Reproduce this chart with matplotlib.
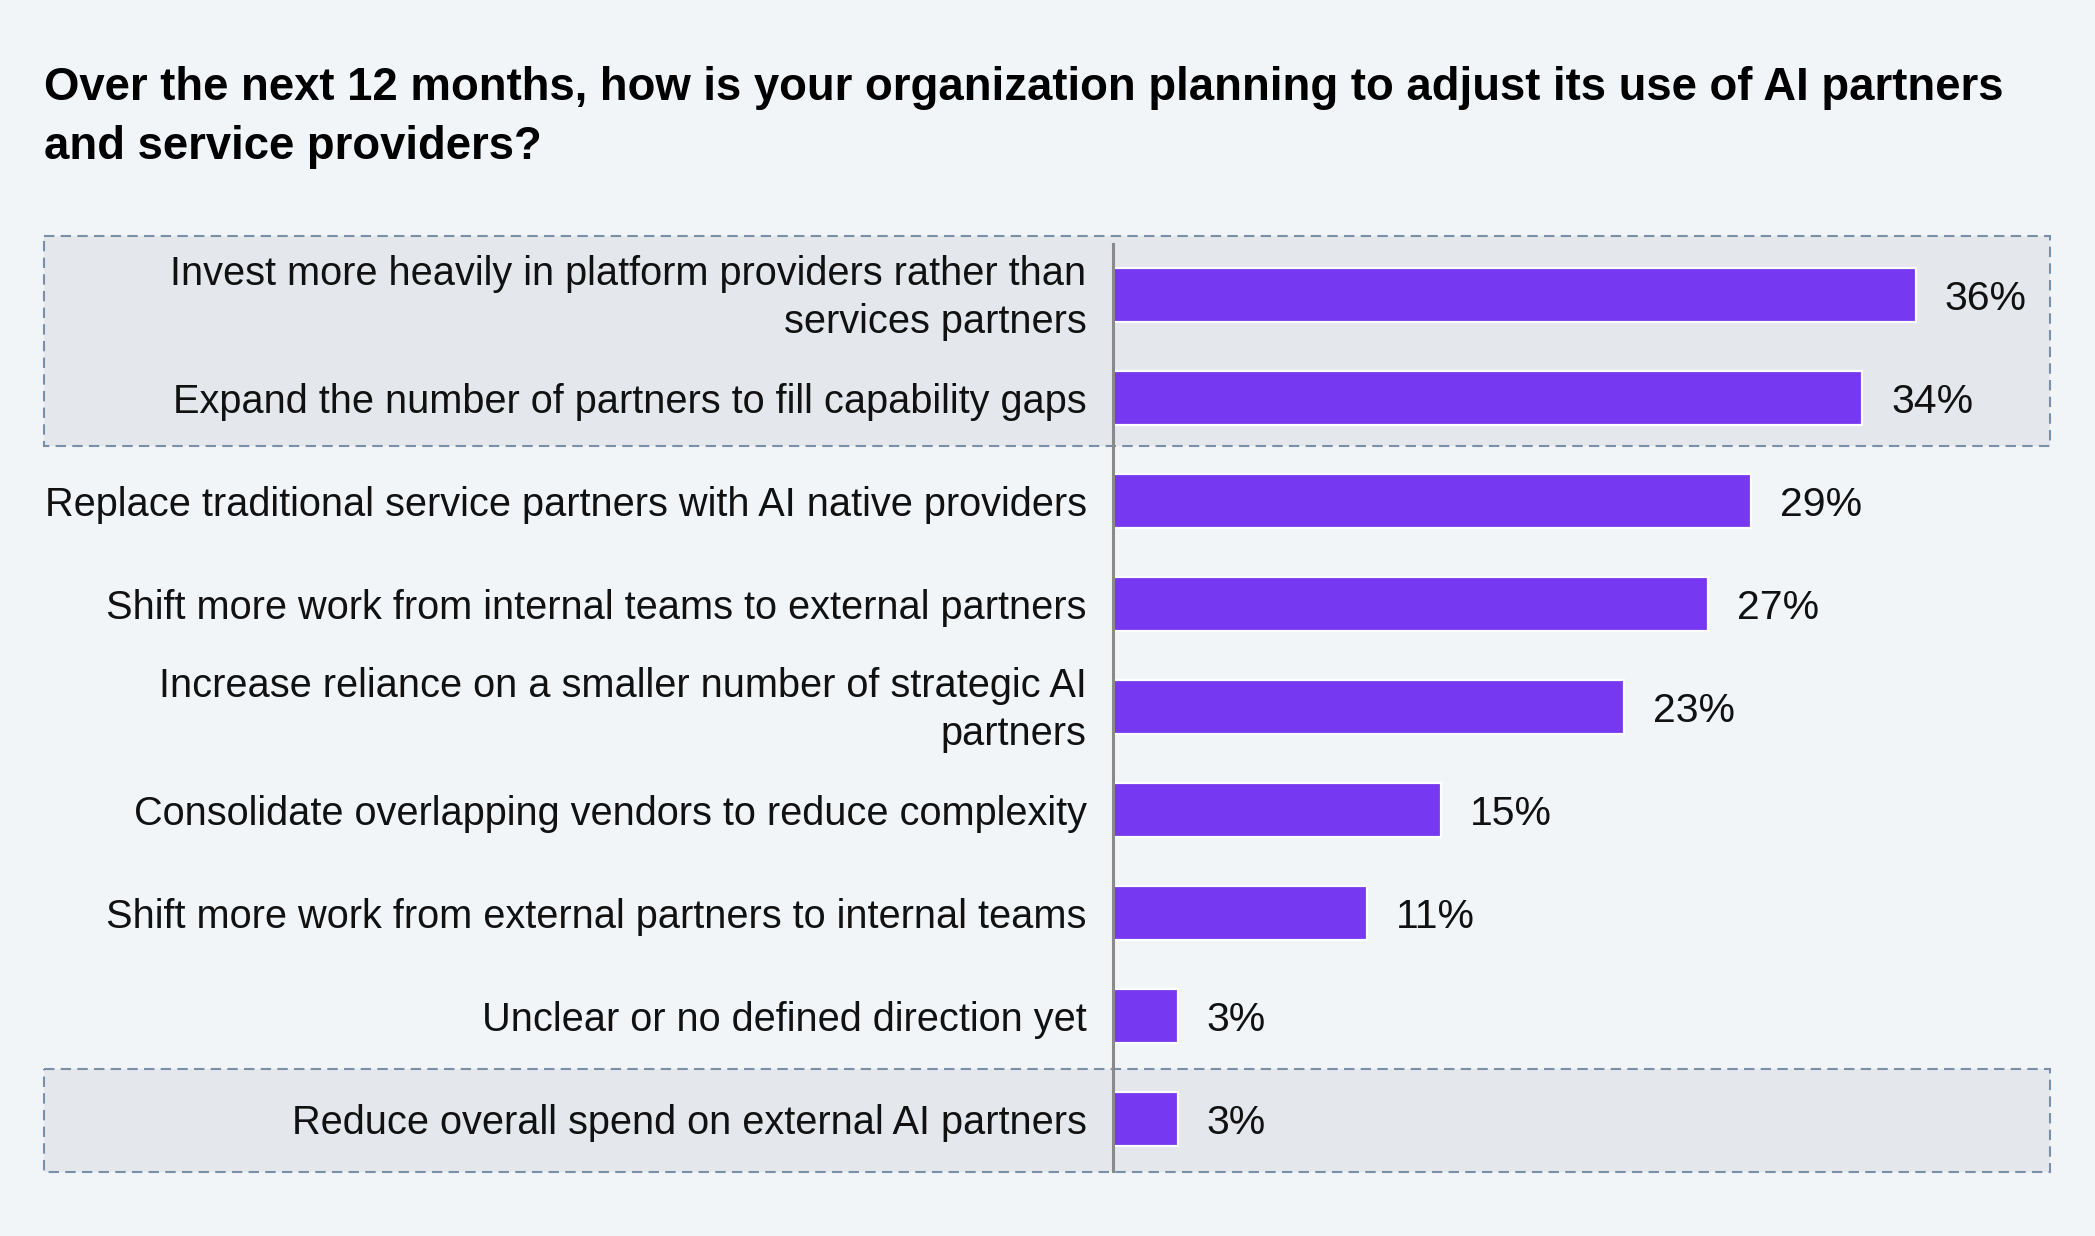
import matplotlib
matplotlib.use("Agg")
import matplotlib.pyplot as plt
from matplotlib.patches import Rectangle
from matplotlib.transforms import blended_transform_factory, ScaledTranslation

plt.rcParams['font.family'] = ['Liberation Sans', 'DejaVu Sans']

# Data
categories = [
    "Invest more heavily in platform providers rather than\nservices partners",
    "Expand the number of partners to fill capability gaps",
    "Replace traditional service partners with AI native providers",
    "Shift more work from internal teams to external partners",
    "Increase reliance on a smaller number of strategic AI\npartners",
    "Consolidate overlapping vendors to reduce complexity",
    "Shift more work from external partners to internal teams",
    "Unclear or no defined direction yet",
    "Reduce overall spend on external AI partners",
]
values = [36.0, 33.6, 28.6, 26.7, 22.9, 14.7, 11.4, 2.9, 2.9]
highlight_groups = [(0, 1), (8, 8)]  # rows inside the dashed boxes

title = ("Over the next 12 months, how is your organization planning to adjust its use of AI partners\n"
         "and service providers?")

bg_color = '#F2F5F8'
box_color = '#E4E7EC'
box_edge = '#7A8FA8'
bar_color = '#7638F0'

W, H = 2095, 1236
fig = plt.figure(figsize=(W / 100, H / 100), dpi=100, facecolor=bg_color)

ax = fig.add_axes([1113 / W, (H - 1170.5) / H, 936.6 / W, 927 / H])
ax.set_facecolor('none')

y = list(range(len(categories)))
ax.barh(y, values, height=0.515, color=bar_color, edgecolor='white', linewidth=1.6, zorder=3)

ax.set_xlim(0, 42)
ax.set_ylim(len(categories) - 0.5, -0.5)

for i, v in enumerate(values):
    ax.text(v + 1.3, i, f"{v:.0f}%", va='center_baseline', ha='left', fontsize=29.5,
            color='#111111', zorder=4)

ax.set_yticks(y)
ax.set_yticklabels(categories, fontsize=28.6, color='#111111', linespacing=1.32)
ax.tick_params(axis='y', length=0, pad=19)
ax.tick_params(axis='x', length=0, labelbottom=False)

# two-line labels sit a little higher in the original
for lbl in ax.get_yticklabels():
    if '\n' in lbl.get_text():
        lbl.set_transform(lbl.get_transform() + ScaledTranslation(0, 6 / 100, fig.dpi_scale_trans))

for side in ['top', 'right', 'bottom']:
    ax.spines[side].set_visible(False)
ax.spines['left'].set_color('#8A8A8A')
ax.spines['left'].set_linewidth(2.2)
ax.spines['left'].set_zorder(5)

# dashed highlight boxes spanning the whole row width
trans = blended_transform_factory(fig.transFigure, ax.transData)
for first, last in highlight_groups:
    top = first - 0.57 if first == 0 else first - 0.485
    bottom = last + 0.47 if last < len(categories) - 1 else last + 0.515
    rect = Rectangle((44 / W, top), (2050 - 44) / W, bottom - top, transform=trans,
                     facecolor=box_color, edgecolor=box_edge, linewidth=1.5,
                     linestyle=(0, (5, 3)), clip_on=False, zorder=0)
    ax.add_patch(rect)

fig.text(44 / W, 1 - 66 / H, title, ha='left', va='top', fontsize=32.8, fontweight='bold',
         color='#000000', linespacing=1.43)

plt.savefig('out.png', dpi=100, facecolor=bg_color)
